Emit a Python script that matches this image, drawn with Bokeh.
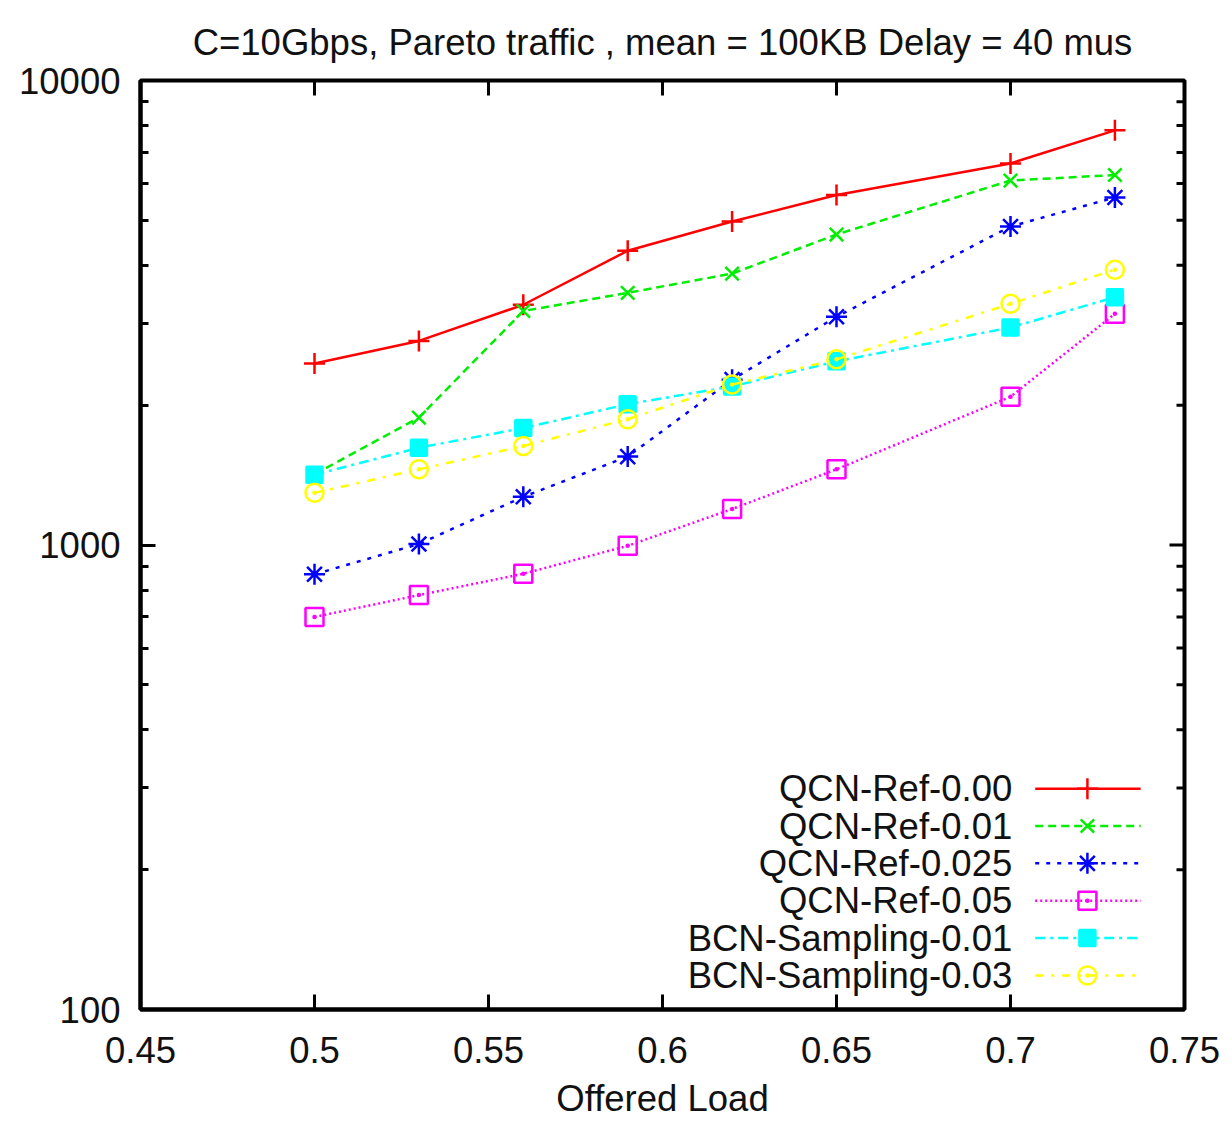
import math
from bokeh.plotting import figure
from bokeh.models import Range1d, FixedTicker, NumeralTickFormatter, BasicTickFormatter
from bokeh.core.properties import value
from bokeh.embed import file_html
from bokeh.resources import INLINE

# ---- data ----
load = [0.5, 0.53, 0.56, 0.59, 0.62, 0.65, 0.7, 0.73]
qcn_ref_000 = [2460, 2750, 3290, 4300, 4970, 5670, 6630, 7810]
qcn_ref_001 = [1420, 1880, 3190, 3490, 3840, 4660, 6090, 6260]
qcn_ref_0025 = [865, 1005, 1270, 1550, 2270, 3100, 4850, 5600]
qcn_ref_005 = [700, 780, 867, 996, 1195, 1455, 2085, 3145]
bcn_samp_001 = [1416, 1620, 1785, 2010, 2195, 2485, 2940, 3415]
bcn_samp_003 = [1295, 1455, 1633, 1866, 2215, 2510, 3305, 3915]

series_names = ["QCN-Ref-0.00", "QCN-Ref-0.01", "QCN-Ref-0.025", "QCN-Ref-0.05",
                "BCN-Sampling-0.01", "BCN-Sampling-0.03"]
series_values = [qcn_ref_000, qcn_ref_001, qcn_ref_0025, qcn_ref_005, bcn_samp_001, bcn_samp_003]

x_ticks = [0.45, 0.5, 0.55, 0.6, 0.65, 0.7, 0.75]
y_ticks = [100, 1000, 10000]
y_minor = [200, 300, 400, 500, 600, 700, 800, 900, 2000, 3000, 4000, 5000, 6000, 7000, 8000, 9000]

title = "C=10Gbps, Pareto traffic , mean = 100KB Delay = 40 mus"
x_label = "Offered Load"

# ---- styles ----
styles = [
    dict(color="#ff0000", dash="solid", marker="cross", size=21, fill=False),
    dict(color="#00ee00", dash="8 5", marker="x", size=19, fill=False),
    dict(color="#0000ff", dash="4 7", marker="asterisk", size=21, fill=False),
    dict(color="#ff00ff", dash="2 3", marker="square_dot", size=18, fill=False),
    dict(color="#00ffff", dash="10 5 3 5", marker="square", size=16, fill=True),
    dict(color="#ffff00", dash="8 8 3 8", marker="circle_dot", size=18, fill=False),
]

FONT = "Liberation Sans"
FS = "36.5px"
FW, FH = 1044, 929

p = figure(frame_width=FW, frame_height=FH, output_backend="svg", toolbar_location=None,
           x_range=Range1d(0.45, 0.75), y_range=Range1d(100, 10000), y_axis_type="log",
           min_border_left=140, min_border_right=48, min_border_top=80, min_border_bottom=105,
           title=title)
p.title.align = "center"
p.title.vertical_align = "top"
p.title.text_font = FONT
p.title.text_font_size = FS
p.title.text_font_style = "normal"
p.title.text_color = "#111111"
p.title.standoff = 32

p.grid.visible = False
p.outline_line_color = "black"
p.outline_line_width = 4
p.background_fill_color = "white"
p.border_fill_color = "white"

xa = p.xaxis[0]
ya = p.yaxis[0]
xa.ticker = FixedTicker(ticks=x_ticks)
xa.formatter = BasicTickFormatter()
ya.ticker = FixedTicker(ticks=y_ticks, minor_ticks=y_minor)
ya.formatter = NumeralTickFormatter(format="0")
xa.axis_label = x_label

for ax in (xa, ya):
    ax.axis_line_width = 4
    ax.axis_line_color = "black"
    ax.major_tick_in = 15
    ax.major_tick_out = 0
    ax.major_tick_line_width = 3
    ax.minor_tick_in = 8
    ax.minor_tick_out = 0
    ax.minor_tick_line_width = 3
    ax.major_label_text_font = FONT
    ax.major_label_text_font_size = FS
    ax.major_label_text_color = "#111111"
    ax.axis_label_text_font = FONT
    ax.axis_label_text_font_size = FS
    ax.axis_label_text_font_style = "normal"
    ax.axis_label_text_color = "#111111"
xa.minor_tick_in = 0
xa.major_label_standoff = 27
xa.axis_label_standoff = 12
ya.major_label_standoff = 20

# mirrored ticks on the top and right frame edges (gnuplot style)
x0, x1 = 0.45, 0.75
ly0, ly1 = math.log10(100), math.log10(10000)
dx_major = 15 * (x1 - x0) / FW
dy_major = 15 * (ly1 - ly0) / FH
dx_minor = 8 * (x1 - x0) / FW
top_t = x_ticks[1:-1]
p.segment(x0=top_t, x1=top_t, y0=[10 ** (ly1 - dy_major)] * len(top_t), y1=[10000] * len(top_t),
          line_color="black", line_width=3)
p.segment(x0=[x1 - dx_major] * len(y_ticks), x1=[x1] * len(y_ticks), y0=y_ticks, y1=y_ticks,
          line_color="black", line_width=3)
p.segment(x0=[x1 - dx_minor] * len(y_minor), x1=[x1] * len(y_minor), y0=y_minor, y1=y_minor,
          line_color="black", line_width=3)

# data series
for vals, st in zip(series_values, styles):
    p.line(load, vals, line_color=st["color"], line_width=2.5, line_dash=st["dash"])
    p.scatter(load, vals, marker=st["marker"], size=st["size"], line_color=st["color"],
              line_width=2.5, fill_color=st["color"] if st["fill"] else None)

# gnuplot-style key: text right-aligned, sample to the right
def fx(frac):
    return x0 + frac * (x1 - x0)
def fy(frac):
    return 10 ** (ly0 + frac * (ly1 - ly0))

text_x = fx(0.835)
line_x0, line_x1, mark_x = fx(0.857), fx(0.958), fx(0.907)
row_top, row_step = 0.2377, 0.0402
for i, (name, st) in enumerate(zip(series_names, styles)):
    yy = fy(row_top - i * row_step)
    p.text(x=[text_x], y=[yy], text=[name], text_align="right", text_baseline="middle",
           text_font=value(FONT), text_font_size=FS, text_color="#111111")
    p.line([line_x0, line_x1], [yy, yy], line_color=st["color"], line_width=2.5, line_dash=st["dash"])
    p.scatter([mark_x], [yy], marker=st["marker"], size=st["size"], line_color=st["color"],
              line_width=2.5, fill_color=st["color"] if st["fill"] else None)

open("out.html", "w").write(file_html(p, INLINE))
